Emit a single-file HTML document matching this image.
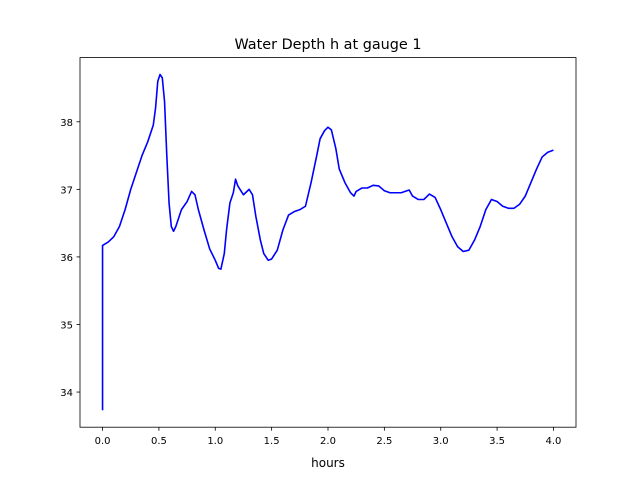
<!DOCTYPE html>
<html><head><meta charset="utf-8"><style>
body{margin:0;background:#fff;}
svg{font-family:"DejaVu Sans","Liberation Sans",sans-serif;}
</style></head><body>
<svg id="chart" width="640" height="480">
<rect width="640" height="480" fill="#fff"/>
<text x="328" y="49" text-anchor="middle" font-size="14.4">Water Depth h at gauge 1</text>
<text x="328" y="467" text-anchor="middle" font-size="12">hours</text>
<g id="axes"></g>
</svg>
<script>
const times=[0,0,0.05,0.1,0.15,0.2,0.25,0.3,0.35,0.4,0.45,0.47,0.49,0.51,0.53,0.55,0.57,0.59,0.61,0.63,0.65,0.7,0.75,0.79,0.82,0.85,0.9,0.95,1.0,1.03,1.05,1.08,1.1,1.13,1.16,1.18,1.2,1.25,1.3,1.33,1.36,1.4,1.43,1.47,1.5,1.55,1.6,1.65,1.7,1.75,1.8,1.85,1.9,1.93,1.97,2.0,2.03,2.07,2.1,2.15,2.2,2.23,2.25,2.3,2.35,2.4,2.45,2.5,2.55,2.65,2.7,2.72,2.75,2.8,2.85,2.9,2.95,3.0,3.05,3.1,3.15,3.2,3.25,3.3,3.35,3.4,3.45,3.5,3.55,3.6,3.65,3.7,3.75,3.8,3.85,3.9,3.95,4.0];
const depths=[33.73,36.17,36.22,36.3,36.45,36.7,37.0,37.25,37.5,37.7,37.95,38.2,38.6,38.7,38.65,38.3,37.5,36.8,36.45,36.38,36.45,36.7,36.82,36.97,36.92,36.7,36.4,36.12,35.95,35.83,35.82,36.05,36.4,36.8,36.95,37.15,37.05,36.92,37.0,36.92,36.6,36.25,36.05,35.95,35.97,36.1,36.4,36.62,36.67,36.7,36.75,37.1,37.5,37.75,37.87,37.92,37.88,37.6,37.3,37.1,36.95,36.9,36.97,37.02,37.02,37.06,37.05,36.98,36.95,36.95,36.98,36.99,36.9,36.85,36.85,36.93,36.88,36.7,36.5,36.3,36.15,36.08,36.1,36.25,36.45,36.7,36.85,36.82,36.75,36.72,36.72,36.78,36.9,37.1,37.3,37.48,37.55,37.58];
const xTicks=[0,0.5,1,1.5,2,2.5,3,3.5,4];
const xTickLabels=["0.0","0.5","1.0","1.5","2.0","2.5","3.0","3.5","4.0"];
const yTicks=[34,35,36,37,38];
const yTickLabels=["34","35","36","37","38"];
const L=80,R=576,T=57.6,B=427.2;
const x0=-0.2,x1=4.2,y0=33.48,y1=38.95;
const X=v=>L+(v-x0)/(x1-x0)*(R-L);
const Y=v=>B-(v-y0)/(y1-y0)*(B-T);
const NS="http://www.w3.org/2000/svg";
const g=document.getElementById('axes');
function mk(tag,attrs){const e=document.createElementNS(NS,tag);for(const k in attrs)e.setAttribute(k,attrs[k]);g.appendChild(e);return e;}
const line=mk('polyline',{points:times.map((t,i)=>X(t).toFixed(2)+','+Y(depths[i]).toFixed(2)).join(' '),fill:'none',stroke:'#0000ff','stroke-width':1.6,'stroke-linejoin':'round'});


const frame=mk('rect',{x:L,y:T,width:R-L,height:B-T,fill:'none',stroke:'#000','stroke-width':0.8});


xTicks.forEach((v,i)=>{
 const tk=mk('line',{x1:X(v),x2:X(v),y1:B,y2:B+3.5,stroke:'#000','stroke-width':0.8});
 
 
 const tx=mk('text',{x:X(v),y:B+17,'text-anchor':'middle','font-size':10});
 tx.textContent=xTickLabels[i];
 
 
});
yTicks.forEach((v,i)=>{
 const tk=mk('line',{x1:L-3.5,x2:L,y1:Y(v),y2:Y(v),stroke:'#000','stroke-width':0.8});
 
 
 const tx=mk('text',{x:L-7,y:Y(v)+4,'text-anchor':'end','font-size':10});
 tx.textContent=yTickLabels[i];
 
 
});
</script>
</body></html>
